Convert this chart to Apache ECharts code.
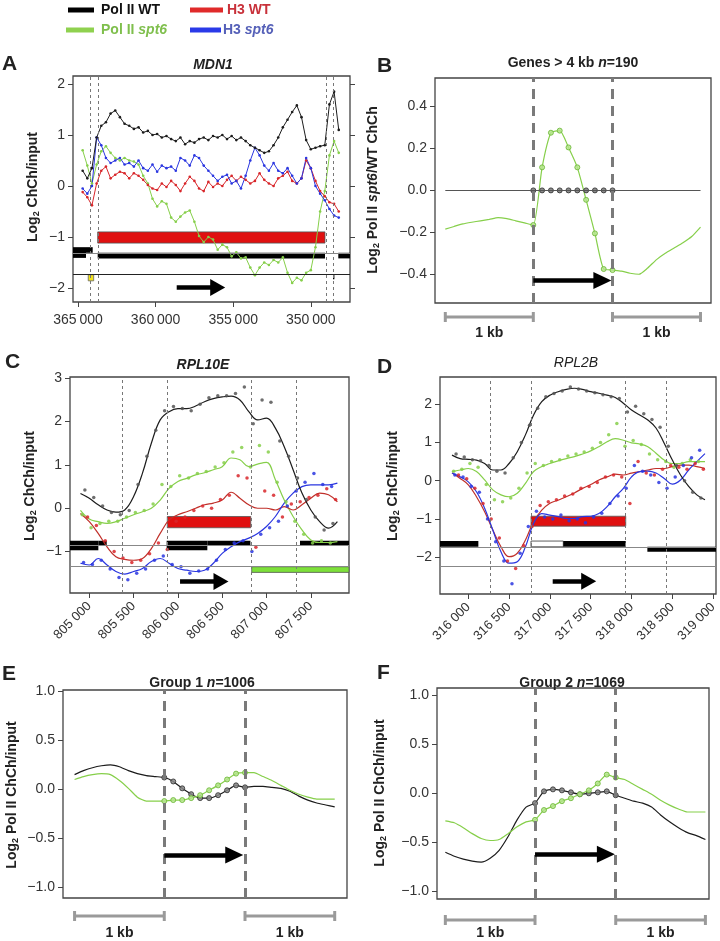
<!DOCTYPE html>
<html>
<head>
<meta charset="utf-8" />
<script src="https://cdn.jsdelivr.net/npm/echarts@6.0.0/dist/echarts.min.js"></script>
</head>
<body style="margin:0">
<div id="main" style="width:720px;height:941px;"></div>
<script type="text/javascript">
// ---- panel A : MDN1 (genomic coordinate, reversed axis)
var aPos = [364700, 364400, 364100, 363800, 363500, 363200, 362900, 362600, 362300, 362000,
  361700, 361400, 361100, 360800, 360500, 360200, 359900, 359600, 359300, 359000,
  358700, 358400, 358100, 357800, 357500, 357200, 356900, 356600, 356300, 356000,
  355700, 355400, 355100, 354800, 354500, 354200, 353900, 353600, 353300, 353000,
  352700, 352400, 352100, 351800, 351500, 351200, 350900, 350600, 350300, 350000,
  349700, 349400, 349100, 348800, 348500, 348200];
var aPolWt = [0.3, 0.15, 0.35, 0.95, 1.18, 1.25, 1.42, 1.48, 1.35, 1.22,
  1.18, 1.12, 1.15, 1.05, 1.08, 1.0, 1.02, 0.95, 0.98, 0.92,
  0.88, 0.95, 0.82, 0.88, 0.85, 0.92, 0.95, 0.9, 0.98, 0.95,
  1.0, 0.92, 0.98, 0.9, 0.95, 0.88, 0.8, 0.75, 0.7, 0.65,
  0.68, 0.8, 0.95, 1.15, 1.3, 1.45, 1.58, 1.35, 0.9, 0.72,
  0.75, 0.78, 0.8, 1.6, 1.85, 1.1];
var aPolSpt6 = [0.7, 0.4, 0.05, 0.42, 0.68, 0.78, 0.65, 0.55, 0.5, 0.55,
  0.5, 0.48, 0.42, 0.2, 0.05, -0.25, -0.4, -0.3, -0.35, -0.62,
  -0.7, -0.6, -0.52, -0.48, -0.7, -0.98, -1.1, -1.0, -1.05, -1.25,
  -1.15, -1.2, -1.38, -1.3, -1.42, -1.4, -1.6, -1.75, -1.6, -1.5,
  -1.55, -1.45, -1.5, -1.4, -1.7, -1.9, -1.8, -1.85, -1.7, -1.65,
  -1.2, -0.5, -0.1, 0.6, 0.88, 0.65];
var aH3Wt = [-0.12, -0.22, -0.38, 0.05, 0.3, 0.38, 0.15, 0.22, 0.28, 0.25,
  0.15, 0.25, 0.2, 0.12, 0.02, -0.05, -0.08, 0.05, -0.02, 0.1,
  0.02, -0.1, 0.05, 0.18, 0.1, -0.05, -0.1, 0.08, -0.02, 0.05,
  0.0, 0.12, 0.2, 0.1, 0.18, 0.12, 0.05, 0.1, 0.25, 0.12,
  0.05, 0.0, 0.15, 0.2, 0.28, 0.1, 0.05, 0.15, 0.5, 0.35,
  0.1, -0.1, -0.2, -0.32, -0.35, -0.5];
var aH3Spt6 = [-0.05, -0.15, 0.0, 0.95, 0.8, 0.55, 0.45, 0.5, 0.55, 0.42,
  0.45, 0.38, 0.5, 0.35, 0.3, 0.42, 0.28, 0.4, 0.35, 0.38,
  0.3, 0.55, 0.5, 0.4, 0.6, 0.55, 0.4, 0.3, 0.2, 0.1,
  0.18, 0.22, 0.05, 0.1, -0.05, 0.2, 0.5, 0.75, 0.6, 0.4,
  0.3, 0.45, 0.3, 0.25, 0.35, 0.2, 0.05, 0.15, 0.55, 0.35,
  0.0, -0.15, -0.28, -0.45, -0.58, -0.62];
var aTicks = [365000, 360000, 355000, 350000];
var aDashes = [364207, 363711, 349024, 348527];

// ---- metagene panels (B, E, F): bin index, gene body scaled to 10 bins
var upPos = [-10, -9, -8, -7, -6, -5, -4, -3, -2, -1, 0];
var genePos = [0, 1, 2, 3, 4, 5, 6, 7, 8, 9];
var downPos = [9, 10, 11, 12, 13, 14, 15, 16, 17, 18, 19];

var bUp = [-0.185, -0.172, -0.16, -0.152, -0.145, -0.138, -0.13, -0.135, -0.145, -0.155, -0.165];
var bGene = [-0.165, 0.11, 0.275, 0.285, 0.205, 0.11, -0.045, -0.205, -0.375, -0.38];
var bDown = [-0.38, -0.385, -0.395, -0.4, -0.37, -0.33, -0.3, -0.275, -0.25, -0.22, -0.175];
var bWtGene = [0, 0, 0, 0, 0, 0, 0, 0, 0, 0];

var eWtUp = [0.15, 0.19, 0.22, 0.24, 0.25, 0.23, 0.19, 0.16, 0.14, 0.13, 0.12];
var eWtGene = [0.12, 0.08, 0.01, -0.05, -0.09, -0.09, -0.06, -0.01, 0.04, 0.02];
var eWtDown = [0.02, 0.03, 0.03, 0.02, 0.01, -0.02, -0.07, -0.11, -0.14, -0.16, -0.18];
var eSpUp = [0.1, 0.13, 0.15, 0.16, 0.15, 0.09, 0.01, -0.08, -0.12, -0.12, -0.12];
var eSpGene = [-0.12, -0.11, -0.11, -0.09, -0.06, -0.01, 0.04, 0.1, 0.16, 0.17];
var eSpDown = [0.17, 0.17, 0.13, 0.09, 0.04, -0.01, -0.05, -0.08, -0.1, -0.1, -0.1];

var fWtUp = [-0.6, -0.64, -0.67, -0.69, -0.7, -0.66, -0.58, -0.44, -0.27, -0.14, -0.1];
var fWtGene = [-0.1, 0.02, 0.04, 0.03, 0.01, -0.01, 0.0, 0.01, 0.02, -0.02];
var fWtDown = [-0.02, -0.05, -0.08, -0.1, -0.14, -0.22, -0.29, -0.35, -0.4, -0.43, -0.47];
var fSpUp = [-0.28, -0.3, -0.35, -0.41, -0.46, -0.48, -0.47, -0.41, -0.34, -0.29, -0.27];
var fSpGene = [-0.27, -0.17, -0.13, -0.08, -0.05, -0.01, 0.03, 0.1, 0.19, 0.16];
var fSpDown = [0.16, 0.14, 0.09, 0.04, -0.01, -0.07, -0.12, -0.16, -0.19, -0.19, -0.19];

// ---- panel C : RPL10E
var cPos = [804900, 805000, 805100, 805200, 805300, 805400, 805500, 805600, 805700, 805800,
  805900, 806000, 806100, 806200, 806300, 806400, 806500, 806600, 806700, 806800,
  806900, 807000, 807100, 807200, 807300, 807400, 807500, 807600, 807700, 807800];
var cPolWt = [0.34, 0.23, 0.08, -0.04, -0.09, -0.04, 0.27, 0.81, 1.5, 2.04,
  2.23, 2.3, 2.3, 2.36, 2.46, 2.53, 2.57, 2.59, 2.5, 2.23,
  2.04, 2.08, 1.85, 1.42, 0.89, 0.35, -0.04, -0.31, -0.46, -0.31];
var cPolSpt6 = [-0.05, -0.25, -0.31, -0.35, -0.31, -0.23, -0.15, -0.08, 0.0, 0.19,
  0.46, 0.62, 0.69, 0.77, 0.82, 0.89, 0.96, 1.16, 1.12, 0.96,
  1.02, 1.06, 0.66, 0.19, -0.19, -0.5, -0.73, -0.79, -0.79, -0.77];
var cH3Wt = [-0.12, -0.31, -0.58, -0.89, -1.12, -1.18, -1.2, -1.16, -0.93, -0.58,
  -0.27, -0.15, -0.08, 0.0, 0.08, 0.12, 0.19, 0.37, 0.23, 0.08,
  0.0, 0.0, -0.04, 0.04, -0.04, 0.08, 0.23, 0.35, 0.31, 0.15];
var cH3Spt6 = [-1.27, -1.31, -1.16, -1.31, -1.46, -1.52, -1.46, -1.39, -1.23, -1.16,
  -1.27, -1.39, -1.43, -1.46, -1.43, -1.27, -1.04, -0.89, -0.77, -0.69,
  -0.58, -0.42, -0.19, 0.12, 0.35, 0.5, 0.54, 0.54, 0.54, 0.58];
// raw probe dots, each track has its own probe positions
var cPolWtDotPos = [804950, 805050, 805150, 805250, 805350, 805450, 805550, 805650, 805750, 805850,
  805950, 806050, 806150, 806250, 806350, 806450, 806550, 806650, 806750, 806850,
  806950, 807050, 807150, 807250, 807350, 807450, 807550, 807650, 807750];
var cPolSpt6DotPos = [804920, 805020, 805120, 805220, 805320, 805420, 805520, 805620, 805720, 805820,
  805920, 806020, 806120, 806220, 806320, 806420, 806520, 806620, 806720, 806820,
  806920, 807020, 807120, 807220, 807320, 807420, 807520, 807620, 807720];
var cH3WtDotPos = [804980, 805080, 805180, 805280, 805380, 805480, 805580, 805680, 805780, 805880,
  805980, 806080, 806180, 806280, 806380, 806480, 806580, 806680, 806780, 806880,
  806980, 807080, 807180, 807280, 807380, 807480, 807580, 807680, 807780];
var cH3Spt6DotPos = [804935, 805035, 805135, 805235, 805335, 805435, 805535, 805635, 805735, 805835,
  805935, 806035, 806135, 806235, 806335, 806435, 806535, 806635, 806735, 806835,
  806935, 807035, 807135, 807235, 807335, 807435, 807535, 807635, 807735];
var cPolWtDots = [0.42, 0.25, 0.05, -0.1, -0.15, -0.05, 0.55, 1.2, 1.8, 2.25,
  2.35, 2.3, 2.25, 2.4, 2.55, 2.6, 2.6, 2.65, 2.8, 1.95,
  2.5, 2.45, 1.55, 1.2, 0.7, 0.2, -0.2, -0.5, -0.35];
var cPolSpt6Dots = [-0.15, -0.45, -0.35, -0.3, -0.3, -0.2, -0.1, -0.05, 0.1, 0.55,
  0.5, 0.75, 0.7, 0.8, 0.85, 0.95, 1.05, 1.3, 1.4, 0.95,
  1.45, 1.3, 0.6, 0.15, -0.3, -0.6, -0.8, -0.75, -0.8];
var cH3WtDots = [-0.2, -0.4, -0.75, -1.0, -1.15, -1.25, -1.2, -1.05, -0.8, -0.95,
  -0.3, -0.2, -0.05, 0.05, 0.0, 0.2, 0.3, 0.75, 0.7, -0.9,
  0.4, 0.3, -0.2, 0.1, 0.15, 0.25, 0.3, 0.45, 0.2];
var cH3Spt6Dots = [-1.25, -1.3, -1.2, -1.4, -1.6, -1.65, -1.5, -1.4, -1.2, -1.1,
  -1.3, -1.35, -1.5, -1.45, -1.4, -1.2, -0.95, -0.8, -0.75, -1.0,
  -0.6, -0.45, -0.3, 0.05, 0.4, 0.6, 0.8, 0.55, 0.5];
var cTicks = [805000, 805500, 806000, 806500, 807000, 807500];
var cDashes = [805377, 805880, 806825, 807330];

// ---- panel D : RPL2B
var dPos = [315800, 315900, 316000, 316100, 316200, 316300, 316400, 316500, 316600, 316700,
  316800, 316900, 317000, 317100, 317200, 317300, 317400, 317500, 317600, 317700,
  317800, 317900, 318000, 318100, 318200, 318300, 318400, 318500, 318600, 318700,
  318800, 318900];
var dPolWt = [0.67, 0.58, 0.56, 0.54, 0.45, 0.28, 0.28, 0.45, 0.76, 1.2,
  1.72, 2.07, 2.24, 2.33, 2.39, 2.42, 2.39, 2.33, 2.29, 2.24,
  2.18, 2.03, 1.85, 1.72, 1.59, 1.38, 0.98, 0.54, 0.15, -0.15,
  -0.37, -0.5];
var dPolSpt6 = [0.24, 0.28, 0.32, 0.24, 0.02, -0.24, -0.37, -0.42, -0.33, -0.07,
  0.24, 0.37, 0.45, 0.52, 0.58, 0.63, 0.7, 0.78, 0.89, 1.02,
  1.1, 1.06, 0.99, 0.96, 0.89, 0.72, 0.54, 0.45, 0.45, 0.5,
  0.5, 0.5];
var dH3Wt = [0.2, 0.06, -0.11, -0.42, -0.81, -1.29, -1.73, -1.99, -1.9, -1.55,
  -1.07, -0.77, -0.59, -0.51, -0.42, -0.32, -0.2, -0.1, 0.02, 0.1,
  0.17, 0.15, 0.2, 0.24, 0.28, 0.32, 0.32, 0.37, 0.41, 0.41,
  0.37, 0.32];
var dH3Spt6 = [0.2, 0.1, -0.03, -0.29, -0.72, -1.29, -1.86, -2.16, -2.12, -1.73,
  -1.12, -0.86, -0.9, -0.94, -0.99, -0.99, -0.94, -0.93, -0.86, -0.68,
  -0.42, -0.2, 0.1, 0.24, 0.25, 0.2, 0.06, -0.09, 0.02, 0.28,
  0.5, 0.71];
var dPolWtDotPos = [315850, 315950, 316050, 316150, 316250, 316350, 316450, 316550, 316650, 316750,
  316850, 316950, 317050, 317150, 317250, 317350, 317450, 317550, 317650, 317750,
  317850, 317950, 318050, 318150, 318250, 318350, 318450, 318550, 318650, 318750,
  318850];
var dPolSpt6DotPos = [315820, 315920, 316020, 316120, 316220, 316320, 316420, 316520, 316620, 316720,
  316820, 316920, 317020, 317120, 317220, 317320, 317420, 317520, 317620, 317720,
  317820, 317920, 318020, 318120, 318220, 318320, 318420, 318520, 318620, 318720,
  318820];
var dH3WtDotPos = [315880, 315980, 316080, 316180, 316280, 316380, 316480, 316580, 316680, 316780,
  316880, 316980, 317080, 317180, 317280, 317380, 317480, 317580, 317680, 317780,
  317880, 317980, 318080, 318180, 318280, 318380, 318480, 318580, 318680, 318780,
  318880];
var dH3Spt6DotPos = [315835, 315935, 316035, 316135, 316235, 316335, 316435, 316535, 316635, 316735,
  316835, 316935, 317035, 317135, 317235, 317335, 317435, 317535, 317635, 317735,
  317835, 317935, 318035, 318135, 318235, 318335, 318435, 318535, 318635, 318735,
  318835];
var dPolWtDots = [0.7, 0.62, 0.55, 0.52, 0.4, 0.25, 0.2, 0.6, 1.0, 1.45,
  1.9, 2.2, 2.28, 2.35, 2.45, 2.4, 2.35, 2.3, 2.25, 2.2,
  2.15, 1.8, 1.95, 1.75, 1.6, 1.4, 0.9, 0.4, 0.0, -0.3, -0.45];
var dPolSpt6Dots = [0.25, 0.3, 0.45, 0.35, -0.1, -0.5, -0.55, -0.45, -0.2, 0.2,
  0.45, 0.4, 0.5, 0.55, 0.65, 0.7, 0.75, 0.85, 1.0, 1.2,
  1.5, 0.9, 1.05, 0.95, 0.7, 0.55, 0.5, 0.35, 0.45, 0.55, 0.5];
var dH3WtDots = [0.15, 0.05, -0.2, -0.6, -1.0, -1.5, -2.1, -2.3, -1.7, -1.2,
  -0.65, -0.55, -0.5, -0.4, -0.35, -0.2, -0.15, -0.05, 0.1, 0.15,
  0.1, -0.6, 0.5, 0.2, 0.15, 0.3, 0.4, 0.35, 0.3, 0.45, 0.3];
var dH3Spt6Dots = [0.15, 0.1, -0.15, -0.3, -1.0, -1.6, -2.1, -2.7, -1.9, -1.2,
  -0.8, -0.95, -1.0, -0.9, -1.05, -1.0, -1.1, -0.95, -0.85, -0.6,
  -0.4, -0.2, 0.4, 0.25, 0.15, -0.05, -0.2, 0.1, 0.4, 0.6, 0.8];
var dTicks = [316000, 316500, 317000, 317500, 318000, 318500, 319000];
var dDashes = [316266, 316768, 317929, 318431];

var FONT = 'Liberation Sans, Arial, Helvetica, sans-serif';
var BLACK = '#1c1c1c', GREEN = '#86cf4a', RED = '#d8262a', BLUE = '#2a36e0';

var myChart = echarts.init(document.getElementById('main'));

function pairs(xs, ys) {
  return xs.map(function (x, i) { return [x, ys[i]]; });
}
function joined(up, gene, down) {
  return pairs(upPos, up).concat(pairs(genePos, gene).slice(1), pairs(downPos, down).slice(1));
}
function minus(s) { return s.replace('-', '\u2212'); }

function yAx(gi, min, max, ticks, digits, right) {
  return {
    type: 'value', gridIndex: gi, min: min, max: max, position: right ? 'right' : 'left',
    axisLine: { show: false, onZero: false }, splitLine: { show: false },
    axisTick: { show: true, length: 5, customValues: ticks, lineStyle: { color: '#444' } },
    axisLabel: {
      show: !right, customValues: ticks, margin: 8, fontFamily: FONT, fontSize: 14, color: '#333',
      formatter: function (v) { return minus(v.toFixed(digits)); }
    }
  };
}
function xAx(gi, min, max, ticks, opts) {
  opts = opts || {};
  return {
    type: 'value', gridIndex: gi, min: min, max: max, inverse: !!opts.inverse,
    show: !!ticks, position: 'bottom',
    axisLine: { show: false, onZero: false }, splitLine: { show: false },
    axisTick: { show: true, length: 5, customValues: ticks || [], lineStyle: { color: '#444' } },
    axisLabel: {
      customValues: ticks || [], rotate: opts.rotate || 0, margin: opts.rotate ? 11 : 11,
      fontFamily: FONT, fontSize: opts.rotate ? 13 : 14, color: '#333',
      formatter: function (v) {
        var s = String(Math.round(v));
        return s.slice(0, 3) + (opts.sep || ' ') + s.slice(3);
      }
    }
  };
}

function lineS(xi, data, color, extra) {
  var s = {
    type: 'line', xAxisIndex: xi, yAxisIndex: xi, data: data, silent: true, z: 3,
    symbol: 'none', showSymbol: false,
    lineStyle: { width: 1.2, color: color }, itemStyle: { color: color }
  };
  for (var k in extra) s[k] = extra[k];
  return s;
}
function dotS(xi, data, color, size, border) {
  return {
    type: 'scatter', xAxisIndex: xi, yAxisIndex: xi, data: data, silent: true, z: 4,
    symbol: 'circle', symbolSize: size,
    itemStyle: { color: color, opacity: 0.85, borderColor: border || color, borderWidth: border ? 1 : 0 }
  };
}

function box(x1, y1, x2, y2, color, border) {
  return [{ coord: [x1, y1], itemStyle: { color: color, opacity: 1, borderColor: border || color, borderWidth: border ? 0.8 : 0 } },
          { coord: [x2, y2] }];
}
function vDot(v) { return { xAxis: v, lineStyle: { type: [3, 3], color: '#777', width: 1 } }; }
function vDash(v) { return { xAxis: v, lineStyle: { type: [10, 7], color: '#7a7a7a', width: 3 } }; }
function hLine(v, color) { return { yAxis: v, lineStyle: { type: 'solid', color: color, width: 1 } }; }
function seg(x1, x2, y, color, w) {
  return [{ coord: [x1, y], lineStyle: { type: 'solid', color: color, width: w } }, { coord: [x2, y] }];
}
function arrow(x1, x2, y, head) {
  return [{ coord: [x1, y], symbol: 'none', lineStyle: { type: 'solid', color: '#000', width: 4.5 } },
          { coord: [x2, y], symbol: 'triangle', symbolSize: head || [17, 15] }];
}
function annot(xi, areas, lines) {
  return {
    type: 'line', xAxisIndex: xi, yAxisIndex: xi, data: [], silent: true, z: 1, symbol: 'none',
    markArea: { silent: true, label: { show: false }, emphasis: { disabled: true }, data: areas },
    markLine: { silent: true, symbol: ['none', 'none'], label: { show: false },
      emphasis: { disabled: true }, data: lines }
  };
}

var grids = [
  { left: 73, top: 76, width: 277, height: 226 },
  { left: 435, top: 78, width: 276, height: 225 },
  { left: 70, top: 377, width: 279, height: 216 },
  { left: 440, top: 377, width: 276, height: 217 },
  { left: 63, top: 690, width: 284, height: 208 },
  { left: 437, top: 688, width: 272, height: 211 }
].map(function (g) {
  g.show = true; g.borderColor = '#444'; g.borderWidth = 1.3; g.backgroundColor = 'transparent';
  return g;
});

var ticks2 = [-2, -1, 0, 1, 2];
function aLine(vals, color) {
  return lineS(0, pairs(aPos, vals), color,
    { symbol: 'circle', showSymbol: true, symbolSize: 2.6, lineStyle: { width: 1, color: color } });
}
var option = {
  animation: false,
  grid: grids,
  xAxis: [
    xAx(0, 347475, 365322, aTicks, { inverse: true, sep: '\u2009' }),
    xAx(1, -11.17, 20.19),
    xAx(2, 804782, 807931, cTicks, { rotate: 45 }),
    xAx(3, 315653, 319035, dTicks, { rotate: 45 }),
    xAx(4, -11.29, 20.37),
    xAx(5, -10.93, 19.4)
  ],
  yAxis: [
    yAx(0, -2.275, 2.157, ticks2, 0),
    yAx(1, -0.537, 0.536, [-0.4, -0.2, 0, 0.2, 0.4], 1),
    yAx(2, -1.956, 3.03, [-1, 0, 1, 2, 3], 0),
    yAx(3, -2.966, 2.715, ticks2, 0),
    yAx(4, -1.109, 1.013, [-1, -0.5, 0, 0.5, 1], 1),
    yAx(5, -1.075, 1.071, [-1, -0.5, 0, 0.5, 1], 1),
    yAx(0, -2.275, 2.157, ticks2, 0, true)
  ],
  series: [
    // A
    annot(0, [
      box(365322, -1.2, 364485, -1.41, '#000'),
      box(364485, -1.2, 364053, -1.31, '#000'),
      box(363731, -1.31, 349086, -1.42, '#000'),
      box(348229, -1.31, 347475, -1.42, '#000'),
      box(363731, -0.9, 349086, -1.12, '#e01010', '#555'),
      box(364340, -1.74, 363990, -1.86, '#f2e21b', '#666'),
      box(348570, -1.74, 348480, -1.83, '#000')
    ], aDashes.map(vDot).concat([hLine(-1.31, '#888'), hLine(-1.73, '#222'),
      arrow(358640, 356000, -1.99, [17, 15])])),
    aLine(aPolSpt6, GREEN),
    aLine(aH3Wt, RED),
    aLine(aH3Spt6, BLUE),
    aLine(aPolWt, BLACK),
    // B
    annot(1, [], [vDash(0), vDash(9), seg(-10, 19, 0, '#555', 1.2), arrow(0, 7.85, -0.43, [17, 18])]),
    lineS(1, joined(bUp, bGene, bDown), GREEN, { smooth: 0.2 }),
    dotS(1, pairs(genePos, bWtGene), '#777', 5, '#333'),
    dotS(1, pairs(genePos, bGene), '#b5e58c', 5, '#6fb83a'),
    // C
    annot(2, [
      box(804782, -0.75, 805102, -0.97, '#000'),
      box(805102, -0.75, 805196, -0.86, '#000'),
      box(805873, -0.75, 806332, -0.97, '#000'),
      box(806332, -0.75, 806818, -0.86, '#000'),
      box(807378, -0.75, 807931, -0.86, '#000'),
      box(805880, -0.19, 806822, -0.45, '#e01010', '#555'),
      box(806833, -1.35, 807931, -1.48, '#7de03a', '#555')
    ], cDashes.map(vDot).concat([hLine(-0.86, '#888'), hLine(-1.33, '#888'),
      arrow(806024, 806486, -1.69, [17, 15])])),
    dotS(2, pairs(cPolSpt6DotPos, cPolSpt6Dots), GREEN, 3.5),
    dotS(2, pairs(cH3WtDotPos, cH3WtDots), RED, 3.5),
    dotS(2, pairs(cH3Spt6DotPos, cH3Spt6Dots), BLUE, 3.5),
    dotS(2, pairs(cPolWtDotPos, cPolWtDots), '#555', 3.5),
    lineS(2, pairs(cPos, cPolSpt6), GREEN, { smooth: 0.4 }),
    lineS(2, pairs(cPos, cH3Wt), '#c0302a', { smooth: 0.4 }),
    lineS(2, pairs(cPos, cH3Spt6), BLUE, { smooth: 0.4 }),
    lineS(2, pairs(cPos, cPolWt), BLACK, { smooth: 0.4 }),
    // D
    annot(3, [
      box(315653, -1.58, 316123, -1.73, '#000'),
      box(316768, -1.58, 317164, -1.73, '#fff', '#333'),
      box(317164, -1.58, 317929, -1.73, '#000'),
      box(318194, -1.73, 319035, -1.86, '#000'),
      box(316768, -0.93, 317929, -1.19, '#e01010', '#555')
    ], dDashes.map(vDot).concat([hLine(-1.73, '#888'), hLine(-2.23, '#888'),
      arrow(317034, 317475, -2.63, [17, 15])])),
    dotS(3, pairs(dPolSpt6DotPos, dPolSpt6Dots), GREEN, 3.5),
    dotS(3, pairs(dH3WtDotPos, dH3WtDots), RED, 3.5),
    dotS(3, pairs(dH3Spt6DotPos, dH3Spt6Dots), BLUE, 3.5),
    dotS(3, pairs(dPolWtDotPos, dPolWtDots), '#555', 3.5),
    lineS(3, pairs(dPos, dPolSpt6), GREEN, { smooth: 0.4 }),
    lineS(3, pairs(dPos, dH3Wt), '#c0302a', { smooth: 0.4 }),
    lineS(3, pairs(dPos, dH3Spt6), BLUE, { smooth: 0.4 }),
    lineS(3, pairs(dPos, dPolWt), BLACK, { smooth: 0.4 }),
    // E
    annot(4, [], [vDash(0), vDash(9), arrow(0, 7.8, -0.67, [17, 18])]),
    lineS(4, joined(eWtUp, eWtGene, eWtDown), BLACK, { smooth: 0.2 }),
    lineS(4, joined(eSpUp, eSpGene, eSpDown), GREEN, { smooth: 0.2 }),
    dotS(4, pairs(genePos, eWtGene), '#888', 5, '#333'),
    dotS(4, pairs(genePos, eSpGene), '#b5e58c', 5, '#6fb83a'),
    // F
    annot(5, [], [vDash(0), vDash(9), arrow(0, 7.9, -0.62, [17, 18])]),
    lineS(5, joined(fWtUp, fWtGene, fWtDown), BLACK, { smooth: 0.2 }),
    lineS(5, joined(fSpUp, fSpGene, fSpDown), GREEN, { smooth: 0.2 }),
    dotS(5, pairs(genePos, fWtGene), '#888', 5, '#333'),
    dotS(5, pairs(genePos, fSpGene), '#b5e58c', 5, '#6fb83a')
  ]
};
myChart.setOption(option);

// ---- text, legend and scale bars
function txt(x, y, text, o) {
  o = o || {};
  var style = {
    text: text, fontFamily: FONT, fontSize: o.size || 14, fontWeight: o.weight || 'bold',
    fontStyle: o.style || 'normal', fill: o.color || '#222',
    align: o.align || 'center', textAlign: o.align || 'center',
    verticalAlign: 'middle', textVerticalAlign: 'middle',
    rich: {
      i: { fontStyle: 'italic', fontFamily: FONT, fontSize: o.size || 14, fontWeight: o.weight || 'bold', fill: o.color || '#222' },
      b: { fontFamily: FONT, fontSize: o.size || 14, fontWeight: o.weight || 'bold', fill: o.color || '#222', lineHeight: 17 },
      s: { fontFamily: FONT, fontSize: 9, fontWeight: 'bold', fill: o.color || '#222', lineHeight: 9, verticalAlign: 'bottom' }
    }
  };
  return { type: 'text', x: x, y: y, rotation: o.rot ? Math.PI / 2 : 0, style: style, silent: true, z: 10 };
}
function swatch(x1, x2, y, color) {
  return { type: 'line', shape: { x1: x1, y1: y, x2: x2, y2: y }, style: { stroke: color, lineWidth: 5 }, silent: true };
}

var g = [
  swatch(68, 94, 10, '#000'), txt(101, 10, 'Pol II WT', { align: 'left', color: '#111' }),
  swatch(190, 223, 10, '#e02a2a'), txt(227, 10, 'H3 WT', { align: 'left', color: '#c8313a' }),
  swatch(66, 94, 30, '#8fd14f'), txt(101, 30, 'Pol II {i|spt6}', { align: 'left', color: '#7fbf4d' }),
  swatch(190, 221, 30, '#2a3ae8'), txt(223, 30, 'H3 {i|spt6}', { align: 'left', color: '#5560b8' }),

  txt(2, 64, 'A', { align: 'left', size: 21 }),
  txt(377, 66, 'B', { align: 'left', size: 21 }),
  txt(5, 362, 'C', { align: 'left', size: 21 }),
  txt(377, 367, 'D', { align: 'left', size: 21 }),
  txt(2, 674, 'E', { align: 'left', size: 21 }),
  txt(377, 673, 'F', { align: 'left', size: 21 }),

  txt(213, 65, 'MDN1', { style: 'italic' }),
  txt(573, 63, 'Genes > 4 kb {i|n}=190', {}),
  txt(203, 365, 'RPL10E', { style: 'italic' }),
  txt(576, 363, 'RPL2B', { style: 'italic', weight: 'normal' }),
  txt(202, 683, 'Group 1 {i|n}=1006', {}),
  txt(572, 683, 'Group 2 {i|n}=1069', {}),

  txt(33, 187, '{b|Log}{s|2}{b| ChCh/input}', { rot: true }),
  txt(373, 190, '{b|Log}{s|2}{b| Pol II }{i|spt6}{b|/WT ChCh}', { rot: true }),
  txt(30, 486, '{b|Log}{s|2}{b| ChCh/input}', { rot: true }),
  txt(393, 486, '{b|Log}{s|2}{b| ChCh/input}', { rot: true }),
  txt(12, 795, '{b|Log}{s|2}{b| Pol II ChCh/input}', { rot: true }),
  txt(380, 793, '{b|Log}{s|2}{b| Pol II ChCh/input}', { rot: true })
];

function kbBar(xi, a, b, yBar, yLab) {
  var x1 = myChart.convertToPixel({ xAxisIndex: xi }, a);
  var x2 = myChart.convertToPixel({ xAxisIndex: xi }, b);
  var st = { stroke: '#9a9a9a', lineWidth: 3 };
  g.push({ type: 'line', shape: { x1: x1, y1: yBar, x2: x2, y2: yBar }, style: st, silent: true });
  g.push({ type: 'line', shape: { x1: x1, y1: yBar - 5, x2: x1, y2: yBar + 5 }, style: st, silent: true });
  g.push({ type: 'line', shape: { x1: x2, y1: yBar - 5, x2: x2, y2: yBar + 5 }, style: st, silent: true });
  g.push(txt((x1 + x2) / 2, yLab, '1 kb', {}));
}
[[1, 317, 333], [4, 916, 933], [5, 920, 933]].forEach(function (p) {
  kbBar(p[0], -10, 0, p[1], p[2]);
  kbBar(p[0], 9, 19, p[1], p[2]);
});

myChart.setOption({ graphic: { elements: g } });
</script>
</body>
</html>
